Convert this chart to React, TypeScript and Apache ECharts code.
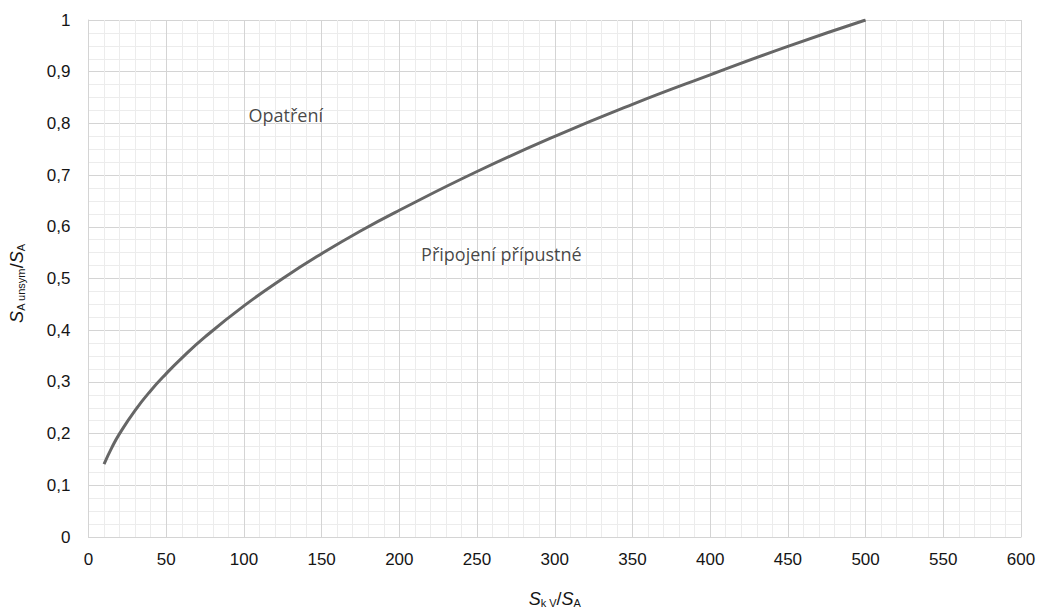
import React, { useEffect, useRef } from "react";
import * as echarts from "echarts";

const xValues = [10, 15, 20, 30, 40, 50, 60, 75, 100, 125, 150, 175, 200, 250, 300, 350, 400, 450, 500];
const yValues = [0.141, 0.173, 0.2, 0.245, 0.283, 0.316, 0.346, 0.387, 0.447, 0.5, 0.548, 0.592, 0.632, 0.707, 0.775, 0.837, 0.894, 0.949, 1.0];

const annotationTexts = ["Opatření", "Připojení přípustné"];
const annotationX = [103, 214];
const annotationY = [0.816, 0.547];

export default function App() {
  const ref = useRef<HTMLDivElement>(null);
  useEffect(() => {
    if (!ref.current) return;
    const chart = echarts.init(ref.current, undefined, { renderer: "svg" });
    const textColor = "#151515";
    const tickFont = { fontFamily: "Liberation Sans", fontSize: 17, color: textColor };
    const rich = {
      i: { fontFamily: "Liberation Sans", fontStyle: "italic", fontSize: 18, color: textColor },
      n: { fontFamily: "Liberation Sans", fontSize: 18, color: textColor },
      sub: { fontFamily: "Liberation Sans", fontSize: 11, color: textColor, verticalAlign: "bottom", padding: [8, 0, 0, 0] },
    };
    chart.setOption({
      animation: false,
      backgroundColor: "#ffffff",
      grid: { left: 85, top: 20, right: 18, bottom: 65, containLabel: false },
      xAxis: {
        type: "value",
        min: 0,
        max: 600,
        interval: 50,
        name: "{i|S}{sub|k V}{n|/}{i|S}{sub|A}",
        nameLocation: "middle",
        nameGap: 52,
        nameTextStyle: { rich },
        axisLine: { show: true, lineStyle: { color: "#d4d4d4", width: 1 } },
        axisTick: { show: false },
        axisLabel: { ...tickFont, margin: 14 },
        splitLine: { show: true, lineStyle: { color: "#d4d4d4", width: 1 } },
        minorTick: { show: false, splitNumber: 5 },
        minorSplitLine: { show: true, lineStyle: { color: "#ececec", width: 1 } },
      },
      yAxis: {
        type: "value",
        min: 0,
        max: 1,
        interval: 0.1,
        name: "{i|S}{sub|A unsym}{n|/}{i|S}{sub|A}",
        nameLocation: "middle",
        nameGap: 62,
        nameRotate: 90,
        nameTextStyle: { rich, padding: [0, 10, 0, 0] },
        axisLine: { show: true, lineStyle: { color: "#d4d4d4", width: 1 } },
        axisTick: { show: false },
        axisLabel: {
          ...tickFont,
          margin: 18,
          formatter: (v: number) => (Math.round(v * 10) / 10).toString().replace(".", ","),
        },
        splitLine: { show: true, lineStyle: { color: "#d4d4d4", width: 1 } },
        minorTick: { show: false, splitNumber: 4 },
        minorSplitLine: { show: true, lineStyle: { color: "#ececec", width: 1 } },
      },
      series: [
        {
          type: "line",
          data: xValues.map((x, i) => [x, yValues[i]]),
          smooth: true,
          symbol: "none",
          lineStyle: { color: "#666666", width: 3 },
          z: 3,
        },
        {
          type: "scatter",
          data: annotationTexts.map((t, i) => ({ value: [annotationX[i], annotationY[i]], name: t })),
          symbolSize: 0,
          silent: true,
          label: {
            show: true,
            position: "right",
            distance: 0,
            formatter: (p: any) => p.name,
            fontFamily: "Open Sans",
            fontSize: 18,
            color: textColor,
          },
          z: 4,
        },
      ],
    });
    return () => chart.dispose();
  }, []);
  return <div ref={ref} style={{ position: "fixed", left: 0, top: 0, width: 1039, height: 613 }} />;
}
